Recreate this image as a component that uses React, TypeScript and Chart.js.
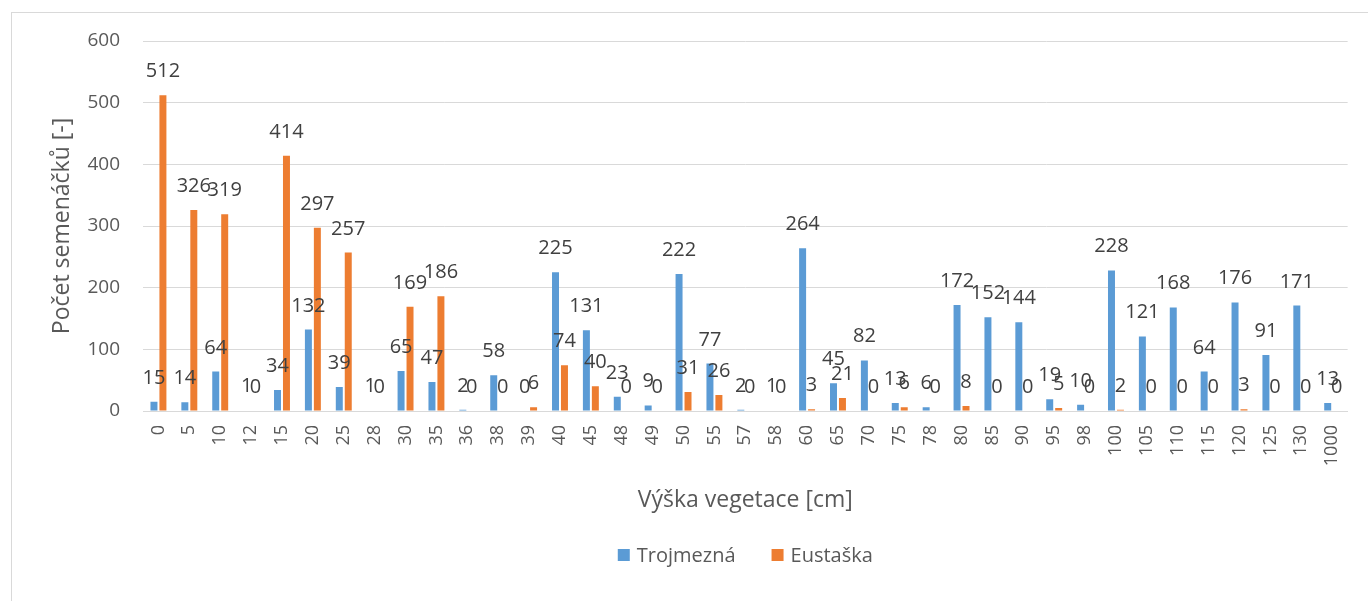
import React, { useEffect, useRef } from "react";
import { Chart, registerables } from "chart.js";

Chart.register(...registerables);

const categories = ["0","5","10","12","15","20","25","28","30","35","36","38","39","40","45","48","49","50","55","57","58","60","65","70","75","78","80","85","90","95","98","100","105","110","115","120","125","130","1000"];
const trojmezna = [15,14,64,1,34,132,39,1,65,47,2,58,0,225,131,23,9,222,77,2,1,264,45,82,13,6,172,152,144,19,10,228,121,168,64,176,91,171,13];
const eustaska = [512,326,319,0,414,297,257,0,169,186,0,0,6,74,40,0,0,31,26,0,0,3,21,0,6,0,8,0,0,5,0,2,0,0,0,3,0,0,0];
const seriesNames = ["Trojmezná", "Eustaška"];
const seriesColors = ["#5b9bd5", "#ed7d31"];
const yTicks = [0, 100, 200, 300, 400, 500, 600];
const xTitle = "Výška vegetace [cm]";
const yTitle = "Počet semenáčků [-]";

const FONT = "'Open Sans', 'DejaVu Sans', sans-serif";

const dataLabelPlugin = {
  id: "dataLabels",
  afterDatasetsDraw(chart: any) {
    const ctx = chart.ctx;
    ctx.save();
    ctx.font = `20px ${FONT}`;
    ctx.fillStyle = "#404040";
    ctx.textAlign = "center";
    ctx.textBaseline = "alphabetic";
    chart.data.datasets.forEach((ds: any, i: number) => {
      const meta = chart.getDatasetMeta(i);
      meta.data.forEach((el: any, j: number) => {
        ctx.fillText(String(ds.data[j]), el.x, el.y - 18);
      });
    });
    ctx.restore();
  },
};

const legendPlugin = {
  id: "customLegend",
  afterDraw(chart: any) {
    const ctx = chart.ctx;
    ctx.save();
    ctx.font = `20px ${FONT}`;
    ctx.textBaseline = "middle";
    ctx.textAlign = "left";
    const box = 12, gap = 7, spacing = 36;
    const widths = seriesNames.map((n) => ctx.measureText(n).width);
    const total = widths.reduce((a, w) => a + box + gap + w, 0) + spacing * (seriesNames.length - 1);
    const cx = (chart.chartArea.left + chart.chartArea.right) / 2;
    let x = cx - total / 2;
    const y = 542;
    seriesNames.forEach((n, i) => {
      ctx.fillStyle = seriesColors[i];
      ctx.fillRect(x, y - box / 2, box, box);
      ctx.fillStyle = "#595959";
      ctx.fillText(n, x + box + gap, y + 1);
      x += box + gap + widths[i] + spacing;
    });
    ctx.restore();
  },
};

export default function App() {
  const ref = useRef<HTMLCanvasElement>(null);
  useEffect(() => {
    if (!ref.current) return;
    const chart = new Chart(ref.current, {
      type: "bar",
      data: {
        labels: categories,
        datasets: [
          { label: seriesNames[0], data: trojmezna, backgroundColor: seriesColors[0], categoryPercentage: 0.58, barPercentage: 0.78 },
          { label: seriesNames[1], data: eustaska, backgroundColor: seriesColors[1], categoryPercentage: 0.58, barPercentage: 0.78 },
        ],
      },
      options: {
        animation: false,
        responsive: false,
        devicePixelRatio: 1,
        layout: { padding: { left: 0, top: 28, right: 17, bottom: 60 } },
        plugins: { legend: { display: false }, tooltip: { enabled: false } },
        scales: {
          x: {
            grid: { display: false, drawTicks: false },
            border: { display: true, color: "#d9d9d9", width: 1 },
            ticks: {
              autoSkip: false,
              minRotation: 90,
              maxRotation: 90,
              padding: 14,
              color: "#595959",
              font: { family: FONT, size: 18 },
            },
            title: {
              display: true,
              text: xTitle,
              color: "#595959",
              font: { family: FONT, size: 23 },
              padding: { top: 0, bottom: 27 },
            },
            afterFit(scale: any) { scale.height = 130; },
          },
          y: {
            min: 0,
            max: 600,
            afterBuildTicks(scale: any) { scale.ticks = yTicks.map((v) => ({ value: v })); },
            grid: { color: "#d9d9d9", lineWidth: 1, drawTicks: false },
            border: { display: false },
            ticks: {
              padding: 23,
              color: "#595959",
              font: { family: FONT, size: 19 },
            },
            title: {
              display: true,
              text: yTitle,
              color: "#595959",
              font: { family: FONT, size: 23 },
              padding: { top: 37, bottom: 0 },
            },
            afterFit(scale: any) {
              scale.width = 131;
              scale.paddingTop = 0;
              scale.paddingBottom = 0;
            },
          },
        },
      },
      plugins: [dataLabelPlugin, legendPlugin],
    });
    return () => chart.destroy();
  }, []);

  return (
    <div
      style={{
        position: "absolute",
        left: 11,
        top: 12,
        width: 1357,
        height: 589,
        borderLeft: "1px solid #d9d9d9",
        borderTop: "1px solid #d9d9d9",
        boxSizing: "border-box",
        background: "#fff",
      }}
    >
      <canvas ref={ref} width={1356} height={588} style={{ display: "block" }} />
    </div>
  );
}
